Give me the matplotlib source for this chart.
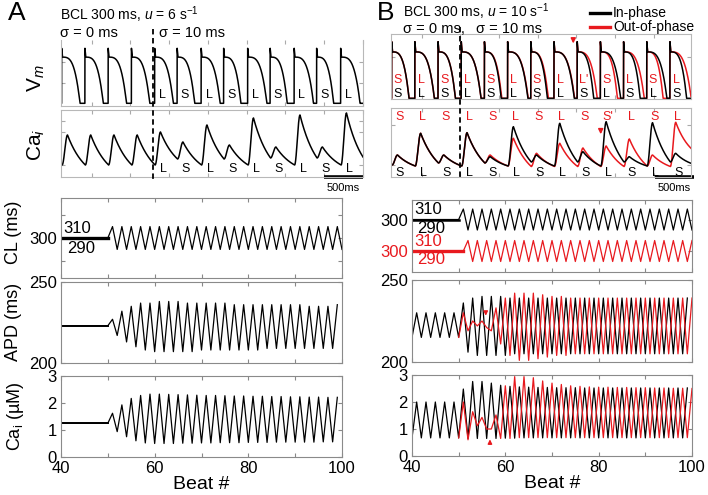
import numpy as np
import matplotlib.pyplot as plt
from matplotlib import transforms
from matplotlib.lines import Line2D

plt.rcParams['font.family'] = ['Liberation Sans', 'DejaVu Sans']
plt.rcParams['mathtext.fontset'] = 'custom'
plt.rcParams['mathtext.rm'] = 'Liberation Sans'
plt.rcParams['mathtext.it'] = 'Liberation Sans:italic'

RED = '#e8191e'

# ---------------- top traces: per-beat values ----------------
# panel A, u = 6 /s (times in ms, Ca in arbitrary units above diastolic level)
a_onsets = [0, 300, 600, 900, 1200, 1490, 1800, 2090, 2400, 2690, 3000, 3290, 3600]
a_vm_dur = [236, 236, 236, 236, 240, 226, 244, 222, 247, 220, 249, 219, 250]
a_ca_peak = [30, 30, 30, 30, 33, 23, 40, 20, 47, 18, 50, 18, 52]
a_ca_end = [0, 0, 0, 0, 6, 0, 6, 0, 7, 0, 7, 0, 8]
a_vm_lbl = ['L', 'S', 'L', 'S', 'L', 'S', 'L', 'S', 'L']
a_switch = 1180

# panel B, u = 10 /s
b_onsets = [0, 300, 600, 900, 1200, 1500, 1800, 2100, 2400, 2700, 3000, 3300, 3600]
b_vm_dur_in = [224, 252, 224, 256, 216, 262, 214, 262, 213, 262, 214, 260, 215]
b_vm_dur_out = [224, 252, 224, 256, 224, 266, 226, 266, 259, 220, 267, 211, 275]
b_ca_peak_in = [10, 31.7, 10, 32.3, 8.3, 38.3, 10, 41.7, 13.3, 43.3, 8.3, 42.3, 11.7]
b_ca_end_in = [-1, 2, -1, 2, -1, 3, -1, 3, -1, 3, -1, 3, 1.7]
b_ca_peak_out = [10, 31.7, 10, 32.3, 10, 26.7, 11.7, 21.7, 17, 19, 26, 10, 42.7]
b_ca_end_out = [-1, 2, -1, 2, -1, -1.5, -1.5, -1.5, -1.5, -1.5, -1, -1.5, 16.7]
b_vm_lbl_in = ['S', 'L', 'S', 'L', 'S', 'L', 'S', 'L', 'S', 'L', 'S', 'L', 'S']
b_vm_lbl_out = ['S', 'L', 'S', 'L', 'S', 'L', 'S', 'L', "L'", 'S', 'L', 'S', 'L']
b_ca_lbl_in = ['S', 'L', 'S', 'L', 'S', 'L', 'S', 'L', 'S', 'L', 'S', 'L', 'S']
b_ca_lbl_out = ['S', 'L', 'S', 'L', 'S', 'L', 'S', 'L', 'S', "S'", 'L', 'S', 'L']
b_switch = 885

# ---------------- beat-to-beat values ----------------
beats_cl = np.arange(40, 101)
beats_a = np.arange(40, 100)
beats_red = np.arange(50, 101)

cl_a = [300, 300, 300, 300, 300, 300, 300, 300, 300, 300,
        300, 310, 290, 310, 290, 310, 290, 310, 290, 310,
        290, 310, 290, 310, 290, 310, 290, 310, 290, 310,
        290, 310, 290, 310, 290, 310, 290, 310, 290, 310,
        290, 310, 290, 310, 290, 310, 290, 310, 290, 310,
        290, 310, 290, 310, 290, 310, 290, 310, 290, 310,
        290]
apd_a = [223, 223, 223, 223, 223, 223, 223, 223, 223, 223,
         223, 227, 217, 232, 213, 235, 210, 237, 208, 237,
         207, 238, 207, 238, 207, 238, 207, 237, 207, 237,
         208, 237, 208, 237, 208, 237, 208, 236, 208, 236,
         208, 236, 208, 236, 209, 236, 209, 236, 209, 236,
         209, 236, 209, 235, 209, 235, 209, 235, 209, 236]
ca_a = [1.25, 1.25, 1.25, 1.25, 1.25, 1.25, 1.25, 1.25, 1.25, 1.25,
        1.25, 1.62, 0.94, 1.93, 0.75, 2.17, 0.60, 2.28, 0.52, 2.33,
        0.50, 2.33, 0.50, 2.32, 0.50, 2.31, 0.51, 2.30, 0.51, 2.29,
        0.52, 2.28, 0.52, 2.28, 0.53, 2.27, 0.53, 2.26, 0.53, 2.26,
        0.54, 2.25, 0.54, 2.25, 0.54, 2.24, 0.55, 2.24, 0.55, 2.23,
        0.55, 2.23, 0.55, 2.22, 0.55, 2.22, 0.56, 2.21, 0.56, 2.21]

cl_b_in = cl_a
cl_b_out = [300, 300, 300, 300, 300, 300, 300, 300, 300, 300,
            300, 300, 310, 290, 310, 290, 310, 290, 310, 290,
            310, 290, 310, 290, 310, 290, 310, 290, 310, 290,
            310, 290, 310, 290, 310, 290, 310, 290, 310, 290,
            310, 290, 310, 290, 310, 290, 310, 290, 310, 290,
            310, 290, 310, 290, 310, 290, 310, 290, 310, 290,
            310]
apd_b_in = [215, 230, 215, 230, 215, 230, 215, 230, 215, 230,
            215, 236, 206, 239, 204, 240, 204, 240, 204, 240,
            204, 239, 205, 239, 205, 239, 205, 239, 205, 239,
            205, 239, 205, 239, 205, 239, 205, 239, 205, 239,
            205, 239, 205, 239, 205, 239, 205, 239, 205, 239,
            205, 239, 205, 239, 205, 239, 205, 239, 205, 239]
apd_b_out = [215, 230, 219, 225, 222, 225, 221, 219, 233, 211,
             239, 204, 242, 201, 242, 201, 242, 202, 241, 203,
             240, 204, 240, 204, 239, 205, 239, 205, 239, 205,
             239, 205, 239, 205, 239, 205, 239, 205, 239, 205,
             239, 205, 239, 205, 239, 205, 239, 205, 239, 205,
             239]
ca_b_in = [0.67, 2.0, 0.67, 2.0, 0.67, 2.0, 0.67, 2.0, 0.67, 2.0,
           0.67, 2.48, 0.65, 2.76, 0.65, 2.76, 0.65, 2.70, 0.65, 2.62,
           0.66, 2.58, 0.66, 2.56, 0.67, 2.55, 0.67, 2.54, 0.67, 2.54,
           0.67, 2.53, 0.67, 2.53, 0.67, 2.53, 0.67, 2.52, 0.67, 2.52,
           0.67, 2.52, 0.67, 2.52, 0.67, 2.52, 0.67, 2.52, 0.67, 2.52,
           0.67, 2.52, 0.67, 2.52, 0.67, 2.52, 0.67, 2.52, 0.67, 2.52]
ca_b_out = [0.67, 2.0, 0.6, 1.64, 1.12, 1.43, 1.0, 1.0, 1.52, 0.65,
            2.6, 0.65, 2.94, 0.68, 2.94, 0.68, 2.9, 0.68, 2.78, 0.68,
            2.7, 0.68, 2.65, 0.68, 2.6, 0.68, 2.58, 0.68, 2.56, 0.68,
            2.55, 0.68, 2.55, 0.68, 2.54, 0.68, 2.54, 0.68, 2.53, 0.68,
            2.53, 0.68, 2.52, 0.68, 2.52, 0.68, 2.51, 0.68, 2.51, 0.68,
            2.5]


def vm_wave(t, onsets, durs, plat):
    v = np.zeros_like(t)
    for on, d in zip(onsets, durs):
        dt = t - on
        m = (dt >= 0) & (dt < d)
        s = dt[m] / d
        v[m] = plat * (1 - s ** 3.5) + np.clip(1 - dt[m] / 10.0, 0, 1) * (1 - plat)
    return v


def ca_wave(t, onsets, peaks, ends, t_stop, delay=5, rise=70):
    c = np.zeros_like(t)
    starts = [on + delay for on in onsets] + [t_stop]
    prev = 0.0
    for i, (p, e) in enumerate(zip(peaks, ends)):
        t0, t1 = starts[i], starts[i + 1]
        tp = t0 + rise
        m = (t >= t0) & (t < tp)
        u = (t[m] - t0) / rise
        c[m] = prev + (p - prev) * (1 - np.cos(np.pi * u)) / 2
        m = (t >= tp) & (t <= t1)
        f = e - 0.6 * (p - e)
        k = np.log((p - f) / (e - f)) / (t1 - tp)
        c[m] = f + (p - f) * np.exp(-k * (t[m] - tp))
        prev = e
    return c


W, H = 708, 495
fig = plt.figure(figsize=(7.08, 4.95), dpi=100)


def box(x0, y0, x1, y1):
    return fig.add_axes([x0 / W, 1 - y1 / H, (x1 - x0) / W, (y1 - y0) / H])


def style_top(ax, xlim, ylim, yt):
    ax.set_xlim(*xlim)
    ax.set_ylim(*ylim)
    ax.set_xticks(np.arange(387, xlim[1], 500))
    ax.set_yticks(yt)
    ax.tick_params(direction='in', length=3, color='#aaaaaa', top=True, right=True,
                   labelbottom=False, labelleft=False)
    for s in ax.spines.values():
        s.set_color('#b8b8b8')
        s.set_linewidth(0.8)


def style_bot(ax):
    ax.set_xlim(40, 100)
    ax.set_xticks(np.arange(40, 101, 10))
    ax.tick_params(direction='in', length=3, color='#888888', top=True, right=True,
                   labelsize=12, labelbottom=False, pad=3)
    for s in ax.spines.values():
        s.set_color('#8a8a8a')
        s.set_linewidth(0.8)


# ================= panel A top =================
tA = np.arange(-9, 3888.5, 1.0)
axA_vm = box(61, 40, 363, 106)
axA_ca = box(61, 110, 363, 177)
axA_vm.plot(tA, vm_wave(tA, a_onsets, a_vm_dur, 0.84), color='k', lw=1.1)
axA_ca.plot(tA, ca_wave(tA, a_onsets, a_ca_peak, a_ca_end, 3888), color='k', lw=1.1)
style_top(axA_vm, (-9, 3888), (-0.049, 1.151), [0.37, 0.75])
style_top(axA_ca, (-9, 3888), (-12, 55), [0, 33, 44])
axA_vm.spines['top'].set_visible(False)
for on, lb in zip(a_onsets[4:], a_vm_lbl):
    axA_vm.text(on + 100, 0.15, lb, ha='center', va='center', fontsize=9)
    axA_ca.text(on + 115, -3.5, lb, ha='center', va='center', fontsize=9)
axA_ca.plot([3385, 3885], [-12, -12], color='k', lw=2.6, clip_on=False, solid_capstyle='butt')
axA_ca.annotate('500ms', (3635, -12), xytext=(0, -8), textcoords='offset points',
                ha='center', va='center', fontsize=8, annotation_clip=False)
trA = transforms.blended_transform_factory(axA_ca.transData, fig.transFigure)
fig.add_artist(Line2D([a_switch, a_switch], [1 - 29 / H, 1 - 179 / H], transform=trA,
                      color='k', lw=1.3, ls=(0, (3, 2))))

# ================= panel B top =================
tB = np.arange(-9, 3872.5, 1.0)
axB_vm = box(391, 34, 691, 99)
axB_ca = box(391, 108, 691, 177)
axB_vm.plot(tB, vm_wave(tB, b_onsets, b_vm_dur_out, 0.82), color=RED, lw=1.1)
axB_vm.plot(tB, vm_wave(tB, b_onsets, b_vm_dur_in, 0.82), color='k', lw=1.1)
axB_ca.plot(tB, ca_wave(tB, b_onsets, b_ca_peak_out, b_ca_end_out, 3872), color=RED, lw=1.1)
axB_ca.plot(tB, ca_wave(tB, b_onsets, b_ca_peak_in, b_ca_end_in, 3872), color='k', lw=1.1)
style_top(axB_vm, (-9, 3872), (-0.012, 1.136), [0.73])
style_top(axB_ca, (-9, 3872), (-12, 57), [0, 40])
for on, lr, lk in zip(b_onsets, b_vm_lbl_out, b_vm_lbl_in):
    axB_vm.text(on + 80, 0.33, lr, ha='center', va='center', fontsize=9, color=RED)
    axB_vm.text(on + 80, 0.07, lk, ha='center', va='center', fontsize=9)
for on, lr, lk in zip(b_onsets, b_ca_lbl_out, b_ca_lbl_in):
    axB_ca.text(on + 100, 48.5, lr, ha='center', va='center', fontsize=9, color=RED)
    axB_ca.text(on + 108, -7.7, lk, ha='center', va='center', fontsize=9)
axB_vm.annotate('', xy=(2349, 0.92), xytext=(2349, 1.08), annotation_clip=False,
                arrowprops=dict(arrowstyle='-|>', color=RED, lw=1.1, mutation_scale=7))
axB_ca.annotate('', xy=(2704, 28), xytext=(2704, 38),
                arrowprops=dict(arrowstyle='-|>', color=RED, lw=1.1, mutation_scale=7))
axB_ca.plot([3410, 3910], [-12, -12], color='k', lw=2.6, clip_on=False, solid_capstyle='butt')
axB_ca.annotate('500ms', (3660, -12), xytext=(0, -8), textcoords='offset points',
                ha='center', va='center', fontsize=8, annotation_clip=False)
trB = transforms.blended_transform_factory(axB_ca.transData, fig.transFigure)
fig.add_artist(Line2D([b_switch, b_switch], [1 - 27 / H, 1 - 178 / H], transform=trB,
                      color='k', lw=1.3, ls=(0, (3, 2))))

# ================= panel A bottom =================
axA_cl = box(61, 198, 342, 278)
axA_apd = box(61, 282, 342, 363)
axA_cai = box(61, 376, 342, 457)
axA_cl.plot(beats_cl, cl_a, color='k', lw=0.9)
axA_cl.plot(beats_cl[:11], cl_a[:11], color='k', lw=2.4)
axA_apd.plot(beats_a, apd_a, color='k', lw=0.9)
axA_apd.plot(beats_a[:11], apd_a[:11], color='k', lw=1.4)
axA_cai.plot(beats_a, ca_a, color='k', lw=0.9)
axA_cai.plot(beats_a[:11], ca_a[:11], color='k', lw=1.4)
for ax in (axA_cl, axA_apd, axA_cai):
    style_bot(ax)
axA_cl.set_ylim(265, 335)
axA_cl.set_yticks([280, 300, 320], ['', '300', ''])
axA_cl.text(43.5, 308, '310', ha='center', va='center', fontsize=12)
axA_cl.text(44.2, 291, '290', ha='center', va='center', fontsize=12)
axA_apd.set_ylim(200, 250)
axA_apd.set_yticks([200, 250])
axA_cai.set_ylim(0, 3)
axA_cai.set_yticks([0, 1, 2, 3])

# ================= panel B bottom =================
axB_cl = box(412, 200, 692, 272)
axB_apd = box(412, 280, 692, 362)
axB_cai = box(412, 375, 692, 456)
cl_red_shift = np.array(cl_b_out) - 30
axB_cl.plot(beats_cl, cl_b_in, color='k', lw=0.9)
axB_cl.plot(beats_cl[:11], cl_b_in[:11], color='k', lw=1.8)
axB_cl.plot(beats_cl, cl_red_shift, color=RED, lw=0.9)
axB_cl.plot(beats_cl[:12], cl_red_shift[:12], color=RED, lw=2.4)
axB_apd.plot(beats_a, apd_b_in, color='k', lw=0.9)
axB_apd.plot(beats_red, apd_b_out, color=RED, lw=0.9)
axB_cai.plot(beats_a, ca_b_in, color='k', lw=0.9)
axB_cai.plot(beats_red, ca_b_out, color=RED, lw=0.9)
for ax in (axB_cl, axB_apd, axB_cai):
    style_bot(ax)
axB_cl.set_ylim(250, 318.6)
axB_cl.set_yticks([270, 300], ['300', '300'])
axB_cl.get_yticklabels()[0].set_color(RED)
axB_cl.text(43.4, 310, '310', ha='center', va='center', fontsize=12)
axB_cl.text(44.0, 291, '290', ha='center', va='center', fontsize=12)
axB_cl.text(43.4, 278.6, '310', ha='center', va='center', fontsize=12, color=RED)
axB_cl.text(44.0, 261.5, '290', ha='center', va='center', fontsize=12, color=RED)
axB_apd.set_ylim(200, 250)
axB_apd.set_yticks([200, 250])
axB_cai.set_ylim(0, 3)
axB_cai.set_yticks([0, 1, 2, 3])
axB_apd.annotate('', xy=(55.8, 226.5), xytext=(55.8, 232),
                 arrowprops=dict(arrowstyle='-|>', color=RED, lw=1.0, mutation_scale=6))
axB_cai.annotate('', xy=(56.7, 0.72), xytext=(56.7, 0.33),
                 arrowprops=dict(arrowstyle='-|>', color=RED, lw=1.0, mutation_scale=6))

for ax in (axA_cai, axB_cai):
    ax.set_xticks(np.arange(40, 101, 10), ['40', '', '60', '', '80', '', '100'])
    ax.tick_params(labelbottom=True)
    ax.set_xlabel('Beat #', fontsize=14, labelpad=0)

# ================= texts =================
def ftext(x, y, s, **kw):
    fig.text(x / W, 1 - y / H, s, **kw)

ftext(8, 13, 'A', fontsize=19, va='center', ha='left')
ftext(377, 13, 'B', fontsize=19, va='center', ha='left')
ftext(60, 15, r'BCL 300 ms, $u$ = 6 s$^{-1}$', fontsize=10, va='center')
ftext(60, 33, 'σ = 0 ms', fontsize=10.5, va='center')
ftext(159, 33, 'σ = 10 ms', fontsize=10.5, va='center')
ftext(403, 12, r'BCL 300 ms, $u$ = 10 s$^{-1}$', fontsize=10, va='center')
ftext(403, 29, 'σ = 0 ms,', fontsize=10.5, va='center')
ftext(476, 29, 'σ = 10 ms', fontsize=10.5, va='center')
fig.add_artist(Line2D([590 / W, 610 / W], [1 - 12.5 / H] * 2, color='k', lw=2.4))
fig.add_artist(Line2D([590 / W, 610 / W], [1 - 26.5 / H] * 2, color=RED, lw=2.4))
ftext(613, 12.5, 'In-phase', fontsize=10, va='center')
ftext(613, 26.5, 'Out-of-phase', fontsize=10, va='center')

ftext(36, 78, r'V$_m$', fontsize=15, rotation=90, ha='center', va='center')
ftext(36, 145, r'Ca$_i$', fontsize=15, rotation=90, ha='center', va='center')
ftext(14, 232, 'CL (ms)', fontsize=13, rotation=90, ha='center', va='center')
ftext(14, 322, 'APD (ms)', fontsize=13, rotation=90, ha='center', va='center')
ftext(15, 416, r'Ca$_\mathregular{i}$ (µM)', fontsize=13, rotation=90, ha='center', va='center')

fig.savefig('out.png', dpi=100)
